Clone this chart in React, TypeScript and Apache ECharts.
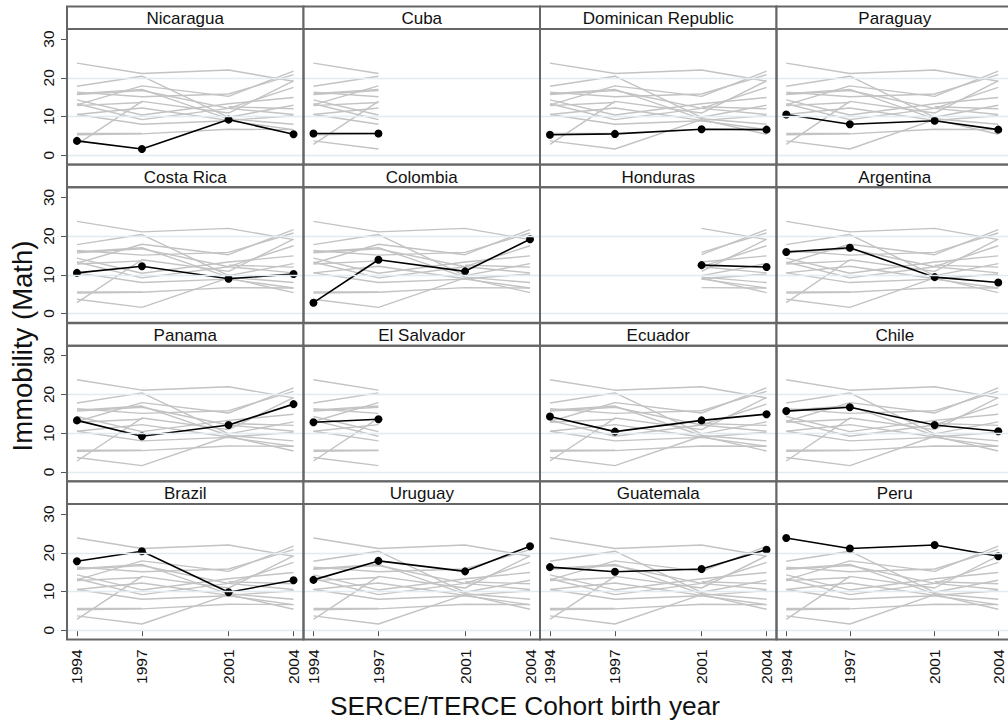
import React, { useEffect, useRef } from "react";
import * as echarts from "echarts";

// Cohort birth years on the shared x axis
const years = [1994, 1997, 2001, 2004];

// Panel order (row by row)
const countries = [
  "Nicaragua", "Cuba", "Dominican Republic", "Paraguay",
  "Costa Rica", "Colombia", "Honduras", "Argentina",
  "Panama", "El Salvador", "Ecuador", "Chile",
  "Brazil", "Uruguay", "Guatemala", "Peru",
];

// Immobility (Math) by cohort birth year; null = cohort not assessed
const nicaragua = [3.7, 1.6, 9.2, 5.4];
const cuba = [5.6, 5.6, null, null];
const dominicanRepublic = [5.3, 5.5, 6.7, 6.6];
const paraguay = [10.5, 8.0, 8.9, 6.6];
const costaRica = [10.5, 12.2, 9.0, 10.2];
const colombia = [2.8, 13.9, 10.9, 19.2];
const honduras = [null, null, 12.5, 12.0];
const argentina = [15.9, 17.0, 9.4, 8.0];
const panama = [13.3, 9.2, 12.1, 17.5];
const elSalvador = [12.8, 13.6, null, null];
const ecuador = [14.3, 10.4, 13.3, 14.9];
const chile = [15.7, 16.7, 12.1, 10.5];
const brazil = [17.8, 20.4, 9.8, 12.9];
const uruguay = [13.0, 17.9, 15.2, 21.7];
const guatemala = [16.3, 15.1, 15.8, 20.8];
const peru = [23.8, 21.1, 22.0, 19.1];

const yTicks = [0, 10, 20, 30];
const yGridLines = [0, 10, 20];

const seriesByCountry: Record<string, (number | null)[]> = {
  Nicaragua: nicaragua,
  Cuba: cuba,
  "Dominican Republic": dominicanRepublic,
  Paraguay: paraguay,
  "Costa Rica": costaRica,
  Colombia: colombia,
  Honduras: honduras,
  Argentina: argentina,
  Panama: panama,
  "El Salvador": elSalvador,
  Ecuador: ecuador,
  Chile: chile,
  Brazil: brazil,
  Uruguay: uruguay,
  Guatemala: guatemala,
  Peru: peru,
};

// Layout of the 4x4 panel grid
const COLS = 4;
const PANEL_LEFT = 67;
const PANEL_W = 236.5;
const ROW_TOP = 6.5;
const ROW_STEP = 158.33;
const HEADER_H = 22.5;
const PLOT_H = 135.5;

const FONT = "'Liberation Sans', Arial, Helvetica, sans-serif";
const FRAME = "#666666";
const TEXT = "#111111";

function buildOption() {
  const grids: any[] = [];
  const xAxes: any[] = [];
  const yAxes: any[] = [];
  const series: any[] = [];
  const graphics: any[] = [];

  countries.forEach((focal, i) => {
    const r = Math.floor(i / COLS);
    const c = i % COLS;
    const left = PANEL_LEFT + PANEL_W * c;
    const headerTop = ROW_TOP + ROW_STEP * r;
    const plotTop = headerTop + HEADER_H;
    const isBottom = r === 3;
    const isLeft = c === 0;

    grids.push({ left, top: plotTop, width: PANEL_W, height: PLOT_H, show: false });

    xAxes.push({
      type: "value",
      gridIndex: i,
      min: 1993.54,
      max: 2004.46,
      axisLine: { show: false },
      splitLine: { show: false },
      axisTick: {
        show: isBottom,
        customValues: years,
        length: 6,
        lineStyle: { color: "#555", width: 1 },
      },
      axisLabel: {
        show: isBottom,
        customValues: years,
        formatter: (v: number) => String(v),
        rotate: 90,
        margin: 10,
        fontSize: 15.5,
        color: TEXT,
        fontFamily: FONT,
      },
    });

    yAxes.push({
      type: "value",
      gridIndex: i,
      min: -2.4,
      max: 32.6,
      axisLine: { show: false },
      splitLine: { show: false },
      axisTick: {
        show: isLeft,
        customValues: yTicks,
        length: 6,
        lineStyle: { color: "#555", width: 1 },
      },
      axisLabel: {
        show: isLeft,
        customValues: yTicks,
        formatter: (v: number) => String(v),
        rotate: 90,
        margin: 11,
        fontSize: 15.5,
        color: TEXT,
        fontFamily: FONT,
      },
    });

    // faint horizontal reference lines
    series.push({
      type: "line",
      xAxisIndex: i,
      yAxisIndex: i,
      data: [],
      z: 1,
      silent: true,
      markLine: {
        silent: true,
        symbol: "none",
        label: { show: false },
        lineStyle: { color: "#e0ecef", width: 1.3, type: "solid" },
        data: yGridLines.map((v) => ({ yAxis: v })),
      },
    });

    const focalValues = seriesByCountry[focal];
    const idx = years.map((_, k) => k).filter((k) => focalValues[k] !== null);

    // every other country, restricted to the years the focal country has
    countries.forEach((other) => {
      if (other === focal) return;
      const vals = seriesByCountry[other];
      series.push({
        type: "line",
        name: other,
        xAxisIndex: i,
        yAxisIndex: i,
        z: 2,
        silent: true,
        symbol: "none",
        connectNulls: false,
        lineStyle: { color: "#c3c3c3", width: 1.4 },
        data: idx.map((k) => [years[k], vals[k]]),
      });
    });

    series.push({
      type: "line",
      name: focal,
      xAxisIndex: i,
      yAxisIndex: i,
      z: 3,
      symbol: "circle",
      symbolSize: 8,
      showSymbol: true,
      lineStyle: { color: "#000", width: 1.6 },
      itemStyle: { color: "#000" },
      data: idx.map((k) => [years[k], focalValues[k]]),
    });

    // panel frame and strip title
    graphics.push({
      type: "rect",
      z: 10,
      shape: { x: left, y: headerTop, width: PANEL_W, height: HEADER_H },
      style: { fill: "#fff", stroke: FRAME, lineWidth: 2 },
    });
    graphics.push({
      type: "rect",
      z: 10,
      shape: { x: left, y: plotTop, width: PANEL_W, height: PLOT_H },
      style: { fill: "none", stroke: FRAME, lineWidth: 2 },
    });
    graphics.push({
      type: "text",
      z: 11,
      x: left + PANEL_W / 2,
      y: headerTop + HEADER_H / 2 + 1,
      style: {
        text: focal,
        fontSize: 17,
        fontFamily: FONT,
        fill: TEXT,
        align: "center",
        verticalAlign: "middle",
      },
    });
  });

  graphics.push({
    type: "text",
    z: 11,
    x: 22,
    y: 346,
    rotation: Math.PI / 2,
    style: {
      text: "Immobility (Math)",
      fontSize: 27.5,
      fontFamily: FONT,
      fill: TEXT,
      align: "center",
      verticalAlign: "middle",
    },
  });
  graphics.push({
    type: "text",
    z: 11,
    x: 525,
    y: 706,
    style: {
      text: "SERCE/TERCE Cohort birth year",
      fontSize: 26.3,
      fontFamily: FONT,
      fill: TEXT,
      align: "center",
      verticalAlign: "middle",
    },
  });

  return {
    animation: false,
    backgroundColor: "#fff",
    grid: grids,
    xAxis: xAxes,
    yAxis: yAxes,
    series,
    graphic: { elements: graphics },
  };
}

export default function App() {
  const ref = useRef<HTMLDivElement>(null);
  useEffect(() => {
    if (!ref.current) return;
    const chart = echarts.init(ref.current, null, { renderer: "svg" });
    chart.setOption(buildOption() as any);
    return () => chart.dispose();
  }, []);
  return (
    <div
      ref={ref}
      style={{ position: "absolute", left: 0, top: 0, width: 1008, height: 721, background: "#fff" }}
    />
  );
}
